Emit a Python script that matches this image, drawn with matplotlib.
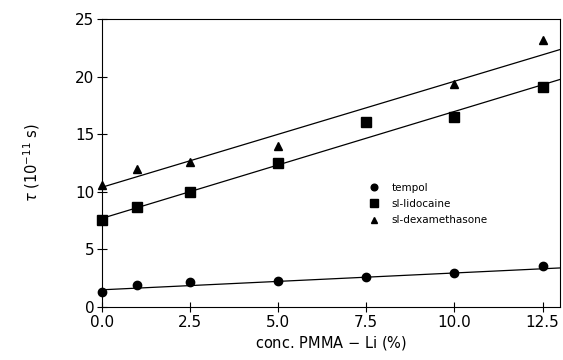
#!/usr/bin/env python3

import matplotlib
matplotlib.use('Agg')
import matplotlib.pyplot as plt
import numpy as np

conc = [0, 1, 2.5, 5, 7.5, 10, 12.5]
tempol = [1.3, 1.9, 2.2, 2.3, 2.6, 3.0, 3.6]
lidocaine = [7.6, 8.7, 10.0, 12.5, 16.1, 16.5, 19.1]
dexamethasone = [10.6, 12.0, 12.6, 14.0, 16.1, 19.4, 23.2]

# linear fits: (intercept, slope)
fit_tempol = (1.5, 0.146)
fit_lidocaine = (7.7, 0.928)
fit_dexamethasone = (10.4, 0.92)

fig = plt.figure(figsize=(5.63, 3.6), dpi=100)
ax = fig.add_axes([0.181, 0.147, 0.814, 0.8])

xl = np.array([0, 13])
series = [
    (tempol, fit_tempol, 'o', 6, 'tempol'),
    (lidocaine, fit_lidocaine, 's', 7, 'sl-lidocaine'),
    (dexamethasone, fit_dexamethasone, '^', 6, 'sl-dexamethasone'),
]
for y, (b, m), mk, ms, lab in series:
    ax.plot(conc, y, linestyle='none', marker=mk, markersize=ms,
            color='black', label=lab, clip_on=False)
    ax.plot(xl, b + m * xl, color='black', linewidth=0.9)

ax.set_xlim(0, 13)
ax.set_ylim(0, 25)
ax.set_xticks([0, 2.5, 5, 7.5, 10, 12.5])
ax.set_xticklabels(['0.0', '2.5', '5.0', '7.5', '10.0', '12.5'])
ax.set_yticks([0, 5, 10, 15, 20, 25])
ax.tick_params(direction='inout', length=7, width=0.8, labelsize=11, pad=2)
for s in ax.spines.values():
    s.set_linewidth(0.8)

ax.set_xlabel('conc. PMMA $-$ Li (%)', fontsize=10.5, labelpad=3)
ax.set_ylabel(r'$\tau$ (10$^{-11}$ s)', fontsize=10.5, labelpad=24)

ax.legend(loc='upper left', bbox_to_anchor=(0.57, 0.45), frameon=False,
          fontsize=7.5, handletextpad=1.2, labelspacing=0.6,
          handlelength=1.0, markerscale=0.8, borderpad=0)

fig.savefig('out.png', dpi=100)
